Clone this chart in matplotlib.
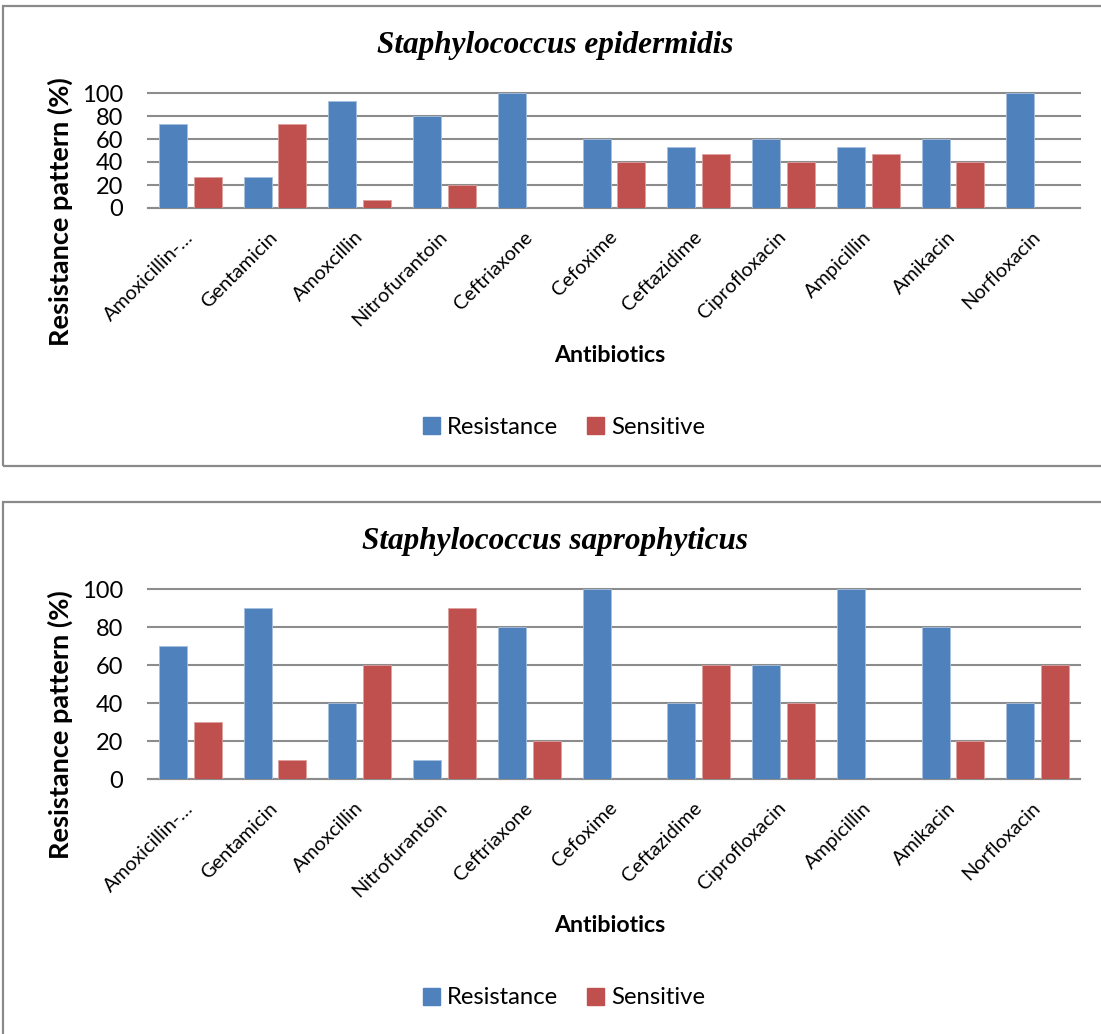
import numpy as np
import matplotlib
matplotlib.use("Agg")
import matplotlib.pyplot as plt
from matplotlib.patches import Rectangle, Patch

plt.rcParams['font.family'] = ['Lato', 'DejaVu Sans']

# data
antibiotics = ["Amoxicillin-\u2026", "Gentamicin", "Amoxcillin", "Nitrofurantoin",
               "Ceftriaxone", "Cefoxime", "Ceftazidime", "Ciprofloxacin",
               "Ampicillin", "Amikacin", "Norfloxacin"]

epi_resistance = [73.3, 26.7, 93.3, 80, 100, 60, 53.3, 60, 53.3, 60, 100]
epi_sensitive = [26.7, 73.3, 6.7, 20, 0, 40, 46.7, 40, 46.7, 40, 0]

sap_resistance = [70, 90, 40, 10, 80, 100, 40, 60, 100, 80, 40]
sap_sensitive = [30, 10, 60, 90, 20, 0, 60, 40, 0, 20, 60]

titles = ["Staphylococcus epidermidis", "Staphylococcus saprophyticus"]
yticks = [0, 20, 40, 60, 80, 100]

BLUE = "#4F81BD"
RED = "#C0504D"
GRID = "#8C8C8C"

W, H = 1101, 1034
fig = plt.figure(figsize=(W / 100, H / 100), dpi=100)


def px_axes(left, top, right, bottom):
    return fig.add_axes([left / W, 1 - bottom / H, (right - left) / W, (bottom - top) / H])


def box(top, bottom):
    r = Rectangle((3 / W, 1 - bottom / H), (W + 20) / W, (bottom - top) / H,
                  transform=fig.transFigure, fill=False, ec="#8A8A8A", lw=1.6)
    fig.patches.append(r)


def draw(res, sens, title, plot_box, title_y, ylab_y, xlab_y, leg_y):
    ax = px_axes(*plot_box)
    x = np.arange(len(antibiotics))
    ax.bar(x - 0.205, res, 0.33, color=BLUE, edgecolor="#A7C0DE", lw=0.6, zorder=3)
    ax.bar(x + 0.205, sens, 0.33, color=RED, edgecolor="#DDA0A0", lw=0.6, zorder=3)
    ax.set_xlim(-0.5, len(antibiotics) - 0.5)
    ax.set_ylim(0, 100)
    ax.set_yticks(yticks)
    ax.yaxis.grid(True, color=GRID, lw=1.5, zorder=0)
    for gl in ax.get_ygridlines():
        gl.set_clip_on(False)
    ax.set_axisbelow(True)
    for s in ["top", "right", "left"]:
        ax.spines[s].set_visible(False)
    ax.spines["bottom"].set_color(GRID)
    ax.spines["bottom"].set_linewidth(1.5)
    ax.tick_params(axis="y", length=0, labelsize=17, pad=18)
    ax.tick_params(axis="x", length=0, labelsize=14.3, pad=19)
    ax.set_xticks(x)
    ax.set_xticklabels(antibiotics)
    plt.setp(ax.get_xticklabels(), rotation=45, ha="right", va="center",
             rotation_mode="anchor")

    fig.text(555 / W, 1 - title_y / H, title, ha="center", va="center",
             family="Liberation Serif", style="italic", weight="bold", size=22.5)
    fig.text(60 / W, 1 - ylab_y / H, "Resistance pattern (%)", rotation=90,
             ha="center", va="center", weight="bold", size=19.5)
    fig.text(610 / W, 1 - xlab_y / H, "Antibiotics", ha="center", va="center",
             weight="bold", size=16.7)
    handles = [Patch(color=BLUE, label="Resistance"), Patch(color=RED, label="Sensitive")]
    fig.legend(handles=handles, loc="center", bbox_to_anchor=(564 / W, 1 - leg_y / H),
               ncol=2, frameon=False, fontsize=17.2, handlelength=0.7, handleheight=0.7,
               handletextpad=0.3, columnspacing=1.2)


box(6, 466)
box(502, 1060)

draw(epi_resistance, epi_sensitive, titles[0], (148, 93, 1080, 208), 45, 212, 355, 427)
draw(sap_resistance, sap_sensitive, titles[1], (148, 589, 1080, 779), 542, 725, 926, 998)

fig.savefig("out.png", dpi=100)
